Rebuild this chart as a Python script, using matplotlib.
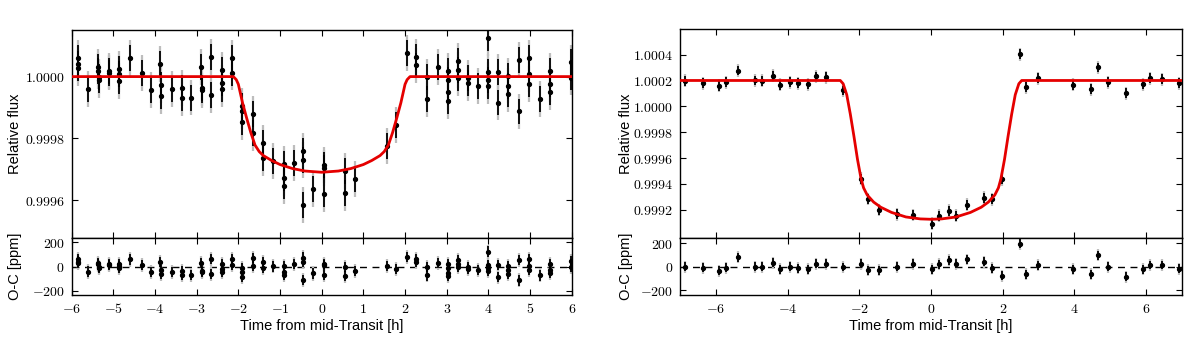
import numpy as np
import matplotlib
matplotlib.use('Agg')
import matplotlib.pyplot as plt
from matplotlib.ticker import FuncFormatter, FixedLocator

plt.rcParams['mathtext.fontset'] = 'cm'
plt.rcParams['font.family'] = ['Liberation Sans', 'DejaVu Sans']

# ---------------- Left panel data (flux as ppm offset from 1.0) ----------------
left_time = [-5.85, -5.85, -5.84, -5.60, -5.36, -5.36, -5.35, -5.35, -5.10, -5.10,
             -4.87, -4.86, -4.86, -4.60, -4.32, -4.10, -3.87, -3.86, -3.86, -3.60,
             -3.36, -3.36, -3.13, -2.89, -2.88, -2.88, -2.66, -2.66, -2.40, -2.40,
             -2.40, -2.16, -2.16,
             -1.92, -1.92, -1.92, -1.66, -1.66, -1.42, -1.42, -1.16, -0.90, -0.90,
             -0.90, -0.67, -0.44, -0.44, -0.44, -0.20, 0.06, 0.06, 0.06, 0.56,
             0.56, 0.80, 1.56, 1.78, 2.04,
             2.26, 2.26, 2.52, 2.52, 2.78, 3.02, 3.02, 3.02, 3.02, 3.26,
             3.26, 3.26, 3.50, 3.50, 3.74, 3.98, 3.98, 3.98, 3.98, 4.22,
             4.22, 4.48, 4.48, 4.48, 4.74, 4.74, 4.98, 4.98, 4.98, 5.23,
             5.48, 5.48, 5.48, 5.98, 5.98]
left_flux_ppm = [60, 42, 28, -40, 32, 18, 0, -10, 19, 13,
                 24, 8, -14, 59, 11, -44, 40, -27, -63, -41,
                 -36, -70, -68, 32, -38, -45, 63, -59, 22, -22,
                 -40, 59, 13,
                 -95, -112, -148, -121, -184, -214, -265, -273, -284, -329,
                 -356, -279, -240, -270, -416, -365, -286, -297, -381, -306,
                 -378, -332, -225, -157, 76,
                 63, 36, 0, -72, 30, 18, -11, -49, -79, 52,
                 22, -5, -5, -22, -30, 124, 16, -10, -32, 16,
                 -84, 2, -29, -57, 54, -113, 59, 8, -25, -72,
                 19, -24, -49, 46, -3]
left_resid_ppm = [60, 42, 28, -40, 32, 18, 0, -10, 19, 13,
                  24, 8, -14, 59, 11, -44, 40, -27, -63, -41,
                  -36, -70, -68, 32, -38, -45, 63, -59, 22, -22,
                  -40, 59, 13,
                  -15, -40, -85, 70, 8, 39, -12, 2, 5, -40,
                  -67, 20, 75, 40, -108, -56, 24, 13, -71, -4,
                  -76, -38, 5, -19, 78,
                  63, 36, 0, -72, 30, 18, -11, -49, -79, 52,
                  22, -5, -5, -22, -30, 124, 16, -10, -32, 16,
                  -84, 2, -29, -57, 54, -113, 59, 8, -25, -72,
                  19, -24, -49, 46, -3]
left_err_black = 42
left_err_gray = 58
left_model_time = [-6, -2.12, -2.05, -2.0, -1.9, -1.8, -1.7, -1.6, -1.5, -1.4,
                   -1.2, -1.0, -0.7, -0.4, 0.0, 0.4, 0.7, 1.0, 1.2, 1.4,
                   1.5, 1.6, 1.7, 1.8, 1.9, 2.0, 2.05, 2.12, 6]
left_model_ppm = [0, 0, -10, -25, -85, -135, -182, -222, -243, -256,
                  -272, -285, -298, -306, -310, -306, -298, -285, -272, -256,
                  -243, -222, -182, -135, -85, -25, -10, 0, 0]

# ---------------- Right panel data (flux as ppm offset from 1.0) ----------------
right_time = [-6.86, -6.36, -5.90, -5.71, -5.39, -4.90, -4.71, -4.40, -4.22, -3.92,
              -3.71, -3.43, -3.22, -2.94, -2.45, -1.94, -1.76, -1.45, -0.95, -0.49,
              0.02, 0.21, 0.51, 0.70, 1.00, 1.49, 1.69, 1.98, 2.47, 2.65,
              2.98, 3.96, 4.46, 4.66, 4.94, 5.43, 5.92, 6.11, 6.43, 6.92]
right_flux_ppm = [197, 179, 159, 187, 277, 200, 197, 236, 166, 187,
                  179, 172, 231, 226, 123, -561, -716, -801, -835, -840,
                  -907, -847, -806, -845, -762, -706, -719, -564, 404, 148,
                  218, 166, 133, 301, 187, 102, 172, 218, 210, 179]
right_resid_ppm = [0, -8, -36, -8, 80, 0, 0, 33, -22, 0,
                   -14, -22, 25, 25, -3, 25, -31, -31, 0, 25,
                   -22, 19, 56, 25, 61, 42, -14, -78, 195, -64,
                   11, -22, -64, 97, 0, -86, -22, 14, 14, -17]
right_err_black = 38
right_err_gray = 50
right_model_time = [-7, -2.53, -2.45, -2.35, -2.25, -2.15, -2.05, -1.95, -1.88, -1.78,
                    -1.6, -1.4, -1.1, -0.7, -0.3, 0.0, 0.3, 0.7, 1.1, 1.4,
                    1.6, 1.78, 1.88, 1.95, 2.05, 2.15, 2.25, 2.35, 2.45, 2.53, 7]
right_model_ppm = [200, 200, 175, 90, -60, -230, -410, -560, -630, -685,
                   -740, -780, -820, -855, -870, -873, -870, -855, -820, -780,
                   -740, -685, -630, -560, -410, -230, -60, 90, 175, 200, 200]

left_xticks = [-6, -5, -4, -3, -2, -1, 0, 1, 2, 3, 4, 5, 6]
right_xticks = [-6, -4, -2, 0, 2, 4, 6]
left_yticks = [0.9996, 0.9998, 1.0000]
right_yticks = [0.9992, 0.9994, 0.9996, 0.9998, 1.0000, 1.0002, 1.0004]
resid_yticks = [-200, 0, 200]

W, H = 1200, 337
fig = plt.figure(figsize=(W / 100, H / 100), dpi=100)

TICK_FS = 10
LABEL_FS = 10.5


def math_fmt(fmt):
    return FuncFormatter(lambda v, p: '$' + (fmt % v) + '$')


def style_axis(ax):
    for s in ax.spines.values():
        s.set_linewidth(1.0)
    ax.tick_params(direction='in', top=True, right=True, length=4, width=0.8,
                   labelsize=TICK_FS, pad=5)


def panel(x0, x1, ytop, ymain, ybot, t, f, r, eb, eg, mt, mf, xlim, ylim, rlim,
          xticks, yticks, labx):
    main = fig.add_axes([x0 / W, 1 - ymain / H, (x1 - x0) / W, (ymain - ytop) / H])
    res = fig.add_axes([x0 / W, 1 - ybot / H, (x1 - x0) / W, (ybot - ymain) / H],
                       sharex=main)
    t = np.array(t)
    f = 1.0 + np.array(f) * 1e-6
    r = np.array(r, dtype=float)
    main.errorbar(t, f, yerr=eg * 1e-6, fmt='none', ecolor='#bdbdbd',
                  elinewidth=1.6, capsize=0, zorder=2)
    main.errorbar(t, f, yerr=eb * 1e-6, fmt='o', ms=2.8, color='black',
                  ecolor='black', elinewidth=1.3, capsize=0, zorder=3)
    main.plot(mt, 1.0 + np.array(mf) * 1e-6, color='#e50000', lw=2.0, zorder=4)
    main.set_xlim(*xlim)
    main.set_ylim(*ylim)
    main.yaxis.set_major_locator(FixedLocator(yticks))
    main.yaxis.set_major_formatter(math_fmt('%.4f'))
    main.set_ylabel('Relative flux', fontsize=LABEL_FS)
    plt.setp(main.get_xticklabels(), visible=False)
    style_axis(main)

    res.axhline(0, color='black', lw=1.0, ls=(0, (5, 4)), zorder=1)
    res.errorbar(t, r, yerr=eg, fmt='none', ecolor='#bdbdbd', elinewidth=1.6,
                 capsize=0, zorder=2)
    res.errorbar(t, r, yerr=eb, fmt='o', ms=2.8, color='black', ecolor='black',
                 elinewidth=1.3, capsize=0, zorder=3)
    res.set_ylim(*rlim)
    res.yaxis.set_major_locator(FixedLocator(resid_yticks))
    res.yaxis.set_major_formatter(math_fmt('%d'))
    res.xaxis.set_major_locator(FixedLocator(xticks))
    res.xaxis.set_major_formatter(math_fmt('%d'))
    res.set_ylabel('O-C [ppm]', fontsize=LABEL_FS)
    res.set_xlabel('Time from mid-Transit [h]', fontsize=LABEL_FS, labelpad=2)
    style_axis(res)
    w = x1 - x0
    main.yaxis.set_label_coords((labx - x0) / w, 0.5)
    res.yaxis.set_label_coords((labx - x0) / w, 0.5)
    return main, res


panel(71.7, 571.7, 30, 238.3, 295, left_time, left_flux_ppm, left_resid_ppm,
      left_err_black, left_err_gray, left_model_time, left_model_ppm,
      (-6, 6), (0.999476, 1.000151), (-233, 233), left_xticks, left_yticks, 22)
panel(680, 1182, 29, 238.3, 295, right_time, right_flux_ppm, right_resid_ppm,
      right_err_black, right_err_gray, right_model_time, right_model_ppm,
      (-7, 7), (0.99898, 1.000598), (-240, 240), right_xticks, right_yticks, 633)

fig.savefig('out.png', dpi=100)
